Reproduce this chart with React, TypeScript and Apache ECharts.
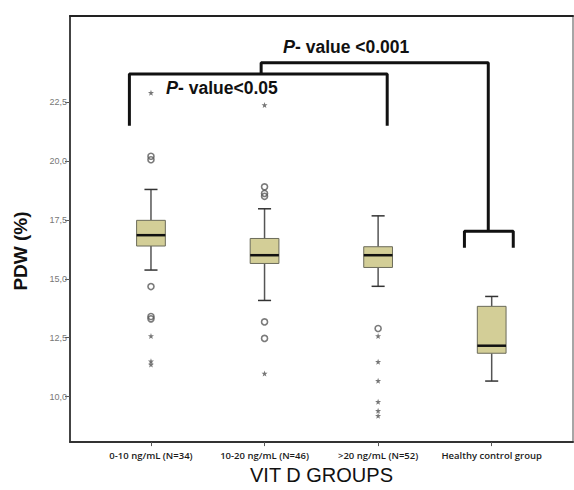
import React, { useEffect, useRef } from "react";
import * as echarts from "echarts";

const categories = [
  "0-10 ng/mL (N=34)",
  "10-20 ng/mL (N=46)",
  ">20 ng/mL (N=52)",
  "Healthy control group",
];
const groupPositions = [1, 2, 3, 4];
const whiskerLow = [15.37, 14.08, 14.68, 10.66];
const quartile1 = [16.39, 15.65, 15.48, 11.84];
const medians = [16.85, 16.0, 16.0, 12.16];
const quartile3 = [17.48, 16.71, 16.36, 13.83];
const whiskerHigh = [18.79, 17.97, 17.67, 14.25];
const circleOutliers = [
  [20.05, 20.2, 14.67, 13.3, 13.4],
  [18.9, 18.62, 18.5, 13.17, 12.47],
  [12.89],
  [],
];
const starOutliers = [
  [22.89, 12.57, 11.5, 11.36],
  [22.37, 10.98],
  [12.57, 11.48, 10.67, 9.78, 9.4, 9.19],
  [],
];
const yTicks = [10, 12.5, 15, 17.5, 20, 22.5];
const bracketLow = [
  [0.81, 21.49],
  [0.81, 23.69],
  [3.08, 23.69],
  [3.08, 21.49],
];
const bracketHigh = [
  [1.97, 23.69],
  [1.97, 24.17],
  [3.97, 24.17],
  [3.97, 17.02],
];
const bracketControl = [
  [3.76, 16.32],
  [3.76, 17.02],
  [4.19, 17.02],
  [4.19, 16.32],
];
const pLabelLow = "- value<0.05";
const pLabelHigh = "- value <0.001";

const X_MIN = 0.287;
const X_MAX = 4.716;
const Y_MIN = 8.07;
const Y_MAX = 26.15;

const starPath =
  "path://M5,0 L6.2,3.5 L10,3.6 L7,5.9 L8.1,9.5 L5,7.4 L1.9,9.5 L3,5.9 L0,3.6 L3.8,3.5 Z";

export default function App() {
  const ref = useRef<HTMLDivElement>(null);

  useEffect(() => {
    if (!ref.current) return;
    const chart = echarts.init(ref.current, undefined, { renderer: "svg" });

    const boxData = groupPositions.map((p, i) => [
      p,
      whiskerLow[i],
      quartile1[i],
      medians[i],
      quartile3[i],
      whiskerHigh[i],
    ]);
    const circleData: number[][] = [];
    circleOutliers.forEach((arr, i) =>
      arr.forEach((v) => circleData.push([groupPositions[i], v]))
    );
    const starData: number[][] = [];
    starOutliers.forEach((arr, i) =>
      arr.forEach((v) => starData.push([groupPositions[i], v]))
    );

    const bracketSeries = (data: number[][]) => ({
      type: "line",
      data,
      symbol: "none",
      silent: true,
      z: 5,
      lineStyle: { color: "#111", width: 3 },
    });

    const pRich = {
      p: {
        fontFamily: "Liberation Sans",
        fontWeight: "bold",
        fontStyle: "italic",
        fontSize: 18,
        fill: "#111",
      },
      t: {
        fontFamily: "Liberation Sans",
        fontWeight: "bold",
        fontSize: 17.5,
        fill: "#111",
      },
    };

    chart.setOption({
      animation: false,
      backgroundColor: "#fff",
      grid: { left: 70, right: 1, top: 16, bottom: 43 },
      xAxis: [
        {
          type: "value",
          min: X_MIN,
          max: X_MAX,
          position: "bottom",
          axisLine: { show: true, lineStyle: { color: "#333", width: 2 } },
          axisTick: {
            show: true,
            customValues: groupPositions,
            length: 4,
            lineStyle: { color: "#555", width: 1 },
          },
          axisLabel: {
            customValues: groupPositions,
            formatter: (v: number) => categories[Math.round(v) - 1] ?? "",
            fontFamily: "Open Sans",
            fontWeight: 600,
            fontSize: 9.5,
            color: "#1a1a1a",
            margin: 8,
          },
          splitLine: { show: false },
          name: "VIT D GROUPS",
          nameLocation: "middle",
          nameGap: 20,
          nameTextStyle: {
            fontFamily: "Liberation Sans",
            fontSize: 20,
            color: "#111",
          },
        },
        {
          type: "value",
          min: X_MIN,
          max: X_MAX,
          position: "top",
          axisLine: { show: true, lineStyle: { color: "#222", width: 2 } },
          axisTick: { show: false },
          axisLabel: { show: false },
          splitLine: { show: false },
        },
      ],
      yAxis: [
        {
          type: "value",
          min: Y_MIN,
          max: Y_MAX,
          position: "left",
          axisLine: { show: true, lineStyle: { color: "#444", width: 2 } },
          axisTick: {
            show: true,
            customValues: yTicks,
            length: 5,
            lineStyle: { color: "#555", width: 1 },
          },
          axisLabel: {
            customValues: yTicks,
            formatter: (v: number) => v.toFixed(1).replace(".", ","),
            fontFamily: "Liberation Sans",
            fontSize: 9,
            color: "#777",
            margin: 3,
          },
          splitLine: { show: false },
        },
        {
          type: "value",
          min: Y_MIN,
          max: Y_MAX,
          position: "right",
          axisLine: { show: true, lineStyle: { color: "#888", width: 1.5 } },
          axisTick: { show: false },
          axisLabel: { show: false },
          splitLine: { show: false },
        },
      ],
      series: [
        {
          type: "custom",
          data: boxData,
          encode: { x: 0, y: [1, 2, 3, 4, 5] },
          z: 3,
          renderItem: (_params: any, api: any) => {
            const x = api.value(0);
            const lo = api.coord([x, api.value(1)]);
            const b1 = api.coord([x, api.value(2)]);
            const md = api.coord([x, api.value(3)]);
            const b3 = api.coord([x, api.value(4)]);
            const hi = api.coord([x, api.value(5)]);
            const bw = api.size([0.253, 0])[0];
            const cw = api.size([0.115, 0])[0];
            const cx = lo[0];
            const whisk = { stroke: "#555", lineWidth: 1.5 };
            const cap = { stroke: "#333", lineWidth: 1.5 };
            return {
              type: "group",
              children: [
                { type: "line", shape: { x1: cx, y1: hi[1], x2: cx, y2: b3[1] }, style: whisk },
                { type: "line", shape: { x1: cx, y1: b1[1], x2: cx, y2: lo[1] }, style: whisk },
                { type: "line", shape: { x1: cx - cw / 2, y1: hi[1], x2: cx + cw / 2, y2: hi[1] }, style: cap },
                { type: "line", shape: { x1: cx - cw / 2, y1: lo[1], x2: cx + cw / 2, y2: lo[1] }, style: cap },
                {
                  type: "rect",
                  shape: { x: cx - bw / 2, y: b3[1], width: bw, height: b1[1] - b3[1] },
                  style: { fill: "#d3ce97", stroke: "#6b6b5a", lineWidth: 1 },
                },
                {
                  type: "line",
                  shape: { x1: cx - bw / 2, y1: md[1], x2: cx + bw / 2, y2: md[1] },
                  style: { stroke: "#111", lineWidth: 2.5 },
                },
              ],
            };
          },
        },
        {
          type: "scatter",
          data: circleData,
          symbol: "circle",
          symbolSize: 6,
          z: 4,
          itemStyle: { color: "rgba(255,255,255,0)", borderColor: "#5a5a5a", borderWidth: 1.6 },
        },
        {
          type: "scatter",
          data: starData,
          symbol: starPath,
          symbolSize: 6,
          z: 4,
          itemStyle: { color: "#555" },
        },
        bracketSeries(bracketLow),
        bracketSeries(bracketHigh),
        bracketSeries(bracketControl),
      ],
      graphic: [
        {
          type: "text",
          x: 20,
          y: 251,
          rotation: Math.PI / 2,
          style: {
            text: "PDW (%)",
            fontFamily: "Liberation Sans",
            fontWeight: "bold",
            fontSize: 19,
            fill: "#111",
            align: "center",
            verticalAlign: "middle",
          },
        },
        {
          type: "text",
          x: 166,
          y: 88,
          z: 10,
          style: {
            text: "{p|P}{t|" + pLabelLow + "}",
            rich: pRich,
            align: "left",
            verticalAlign: "middle",
          },
        },
        {
          type: "text",
          x: 283,
          y: 47,
          z: 10,
          style: {
            text: "{p|P}{t|" + pLabelHigh + "}",
            rich: pRich,
            align: "left",
            verticalAlign: "middle",
          },
        },
      ],
    });

    return () => chart.dispose();
  }, []);

  return (
    <div
      ref={ref}
      style={{ position: "fixed", left: 0, top: 0, width: 574, height: 490 }}
    />
  );
}
